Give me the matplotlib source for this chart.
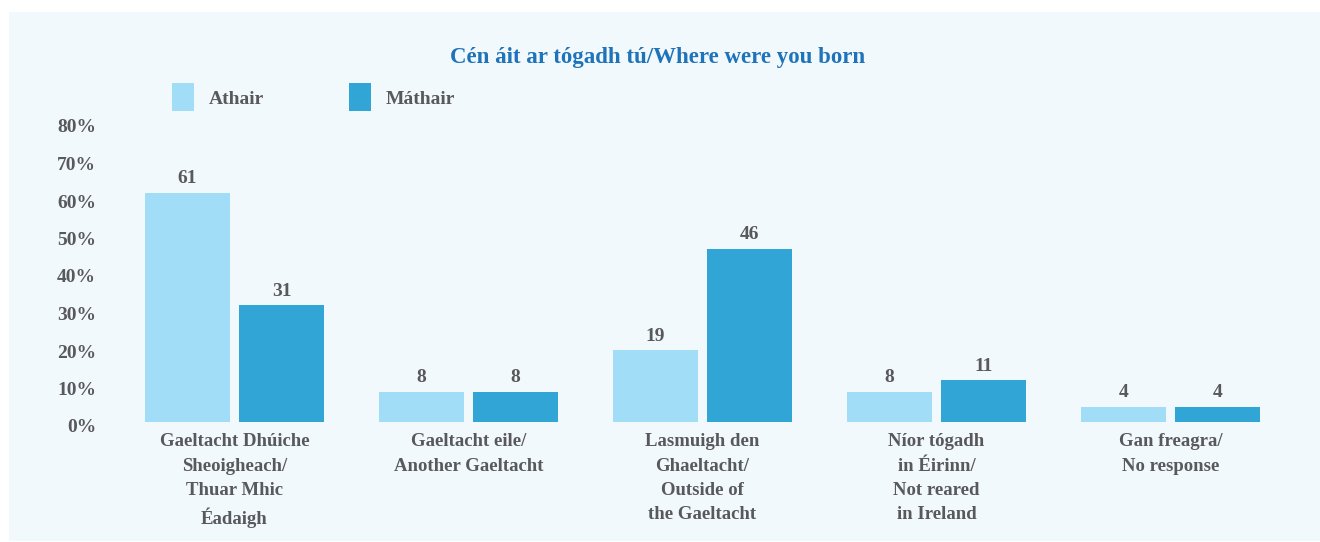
import numpy as np
import matplotlib
matplotlib.use("Agg")
import matplotlib.pyplot as plt
from matplotlib.patches import Rectangle

# data
categories = [
    "Gaeltacht Dhúiche\nSheoigheach/\nThuar Mhic\nÉadaigh",
    "Gaeltacht eile/\nAnother Gaeltacht",
    "Lasmuigh den\nGhaeltacht/\nOutside of\nthe Gaeltacht",
    "Níor tógadh\nin Éirinn/\nNot reared\nin Ireland",
    "Gan freagra/\nNo response",
]
athair = [61, 8, 19, 8, 4]
mathair = [31, 8, 46, 11, 4]
series_names = ["Athair", "Máthair"]
ytick_vals = [0, 10, 20, 30, 40, 50, 60, 70, 80]

light = "#a2ddf7"
dark = "#31a5d6"
grey = "#58595b"
blue = "#1e73b9"
panel = "#f2f9fd"

plt.rcParams['font.family'] = ['Liberation Serif', 'DejaVu Serif']
plt.rcParams['font.weight'] = 'bold'

fig = plt.figure(figsize=(13.2, 5.42), dpi=100)
fig.patch.set_facecolor("white")
# light panel behind everything
fig.patches.append(Rectangle((9 / 1320, 1 / 542), 1, 1 - 13 / 542,
                             transform=fig.transFigure, facecolor=panel,
                             edgecolor="none", zorder=-5))

ax = fig.add_axes([110 / 1320, (542 - 430) / 542, 1190 / 1320, 310 / 542])
ax.set_facecolor("none")
ax.set_zorder(2)

x = np.arange(len(categories))
w = 85 / 234
off = 94 / 2 / 234
b1 = ax.bar(x - off, athair, w, color=light)
b2 = ax.bar(x + off, mathair, w, color=dark)

for bars, vals in ((b1, athair), (b2, mathair)):
    for r, v in zip(bars, vals):
        ax.annotate(str(v), (r.get_x() + r.get_width() / 2, r.get_height()),
                    xytext=(0, 4), textcoords="offset points",
                    ha="center", va="bottom", fontsize=14, color=grey,
                    fontweight="bold")

ax.set_xlim((110 - 234.5) / 234, (1300 - 234.5) / 234)
ax.set_ylim(-(430 - 421.5) / 3.75, (421.5 - 120) / 3.75)

# tick labels sit a little below the bar baseline in the original
ax.set_yticks(np.array(ytick_vals) - 1.2)
ax.set_yticklabels([f"{v}%" for v in ytick_vals], fontsize=14, color=grey,
                   fontweight="bold")
ax.set_xticks(x)
ax.set_xticklabels(categories, fontsize=13.5, color=grey, fontweight="bold",
                   linespacing=1.55, va="top")
ax.tick_params(length=0)
ax.tick_params(axis="y", pad=10)
ax.tick_params(axis="x", pad=2.5)
for s in ax.spines.values():
    s.set_visible(False)

fig.text(658 / 1320, 1 - 58 / 542, "Cén áit ar tógadh tú/Where were you born",
         ha="center", va="center", fontsize=16.5, color=blue, fontweight="bold")

# legend drawn by hand to match the wide spacing
for px, col, name in ((172, light, series_names[0]), (349, dark, series_names[1])):
    fig.patches.append(Rectangle((px / 1320, 1 - 111 / 542), 22 / 1320, 28 / 542,
                                 transform=fig.transFigure, facecolor=col,
                                 edgecolor="none"))
    fig.text((px + 37) / 1320, 1 - 100 / 542, name, ha="left", va="center",
             fontsize=14, color=grey, fontweight="bold")

fig.savefig("out.png", dpi=100, facecolor=fig.get_facecolor())
